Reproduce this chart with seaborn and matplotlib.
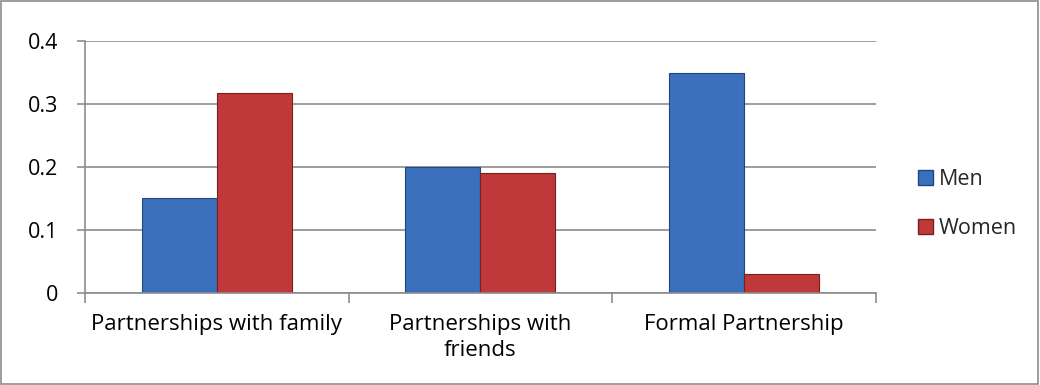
import matplotlib
matplotlib.use("Agg")
import matplotlib.pyplot as plt
import seaborn as sns
import pandas as pd
from matplotlib.patches import Rectangle

categories = ["Partnerships with family", "Partnerships with\nfriends", "Formal Partnership"]
series = ["Men", "Women"]
men = [0.15, 0.20, 0.35]
women = [0.317, 0.19, 0.03]
yticks = [0, 0.1, 0.2, 0.3, 0.4]
ytick_labels = ["0", "0.1", "0.2", "0.3", "0.4"]

sns.set_theme(style="white")
plt.rcParams['font.family'] = ['Open Sans', 'DejaVu Sans']
FS = 16

df = pd.DataFrame({
    "category": categories * 2,
    "series": [series[0]] * 3 + [series[1]] * 3,
    "value": men + women,
})

fig = plt.figure(figsize=(10.4, 3.85), dpi=100)
ax = fig.add_axes([0.0817, 0.239, 0.7603, 0.6545])
palette = {"Men": "#3B70BC", "Women": "#C0393A"}
sns.barplot(data=df, x="category", y="value", hue="series", palette=palette,
            order=categories, hue_order=series, width=0.57, ax=ax,
            saturation=1, edgecolor="none", legend=True)

edge = {"Men": "#22467E", "Women": "#7A1E1E"}
for container, s in zip(ax.containers, series):
    for p in container.patches:
        p.set_edgecolor(edge[s])
        p.set_linewidth(0.8)

ax.set_xlim(-0.5, 2.5)
ax.set_ylim(0, 0.4)
ax.set_yticks(yticks)
ax.set_yticklabels(ytick_labels, fontsize=FS - 0.5)
ax.yaxis.grid(True, color="#8C8C8C", linewidth=1.2)
ax.set_axisbelow(True)
ax.set_xlabel("")
ax.set_ylabel("")
for s in ["top", "right"]:
    ax.spines[s].set_visible(False)
for s in ["left", "bottom"]:
    ax.spines[s].set_color("#8C8C8C")
    ax.spines[s].set_linewidth(1.2)
ax.tick_params(axis="y", which="major", direction="out", length=6, color="#8C8C8C",
               width=1.2, left=True, pad=13, labelcolor="#000000")
ax.set_xticks([0, 1, 2])
ax.set_xticklabels(categories, fontsize=FS, color="#000000", linespacing=1.3)
ax.tick_params(axis="x", which="major", length=0, pad=15)
ax.set_xticks([-0.5, 0.5, 1.5, 2.5], minor=True)
ax.tick_params(axis="x", which="minor", direction="out", length=7, color="#8C8C8C",
               width=1.2, bottom=True)

leg = ax.legend(loc="center left", bbox_to_anchor=(1.053, 0.353), frameon=False,
                fontsize=FS - 0.5, handlelength=0.7, handleheight=0.7, handletextpad=0.3,
                labelspacing=1.3, borderpad=0, borderaxespad=0)
for h, s in zip(leg.legend_handles, series):
    h.set_edgecolor(edge[s])

fig.patches.append(Rectangle((0.001, 0.003), 0.997, 0.994, transform=fig.transFigure,
                             fill=False, edgecolor="#8C8C8C", linewidth=1.2))
fig.savefig("out.png", dpi=100)
